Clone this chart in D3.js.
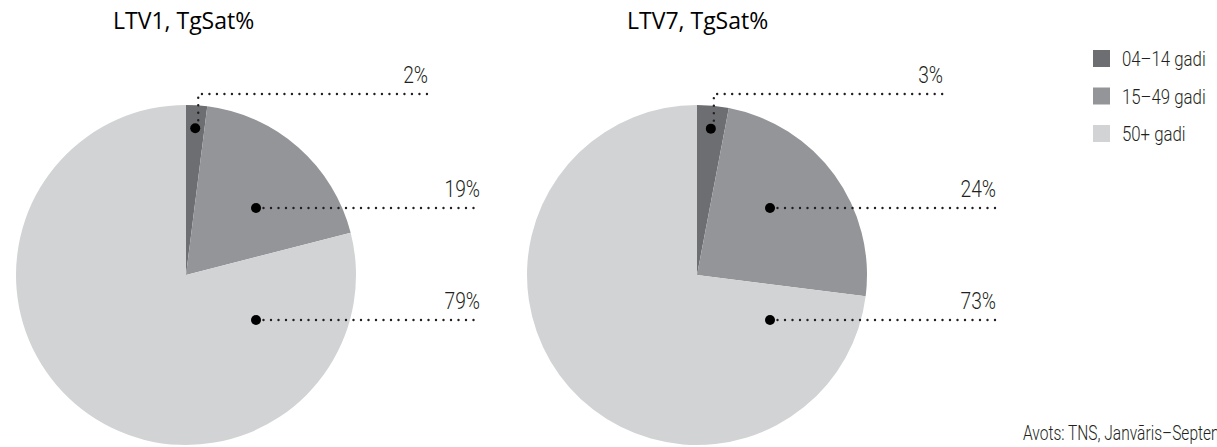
<!DOCTYPE html>
<html>
<head>
<meta charset="utf-8">
<script src="https://cdn.jsdelivr.net/npm/d3@7"></script>
<style>
  html, body { margin: 0; padding: 0; background: #fff; overflow: hidden; }
  svg { display: block; }
</style>
</head>
<body>
<svg id="chart" width="1217" height="447"></svg>
<script>
// ---- data ----
const categories = ["04–14 gadi", "15–49 gadi", "50+ gadi"];
const chartTitles = ["LTV1, TgSat%", "LTV7, TgSat%"];
const ltv1Values = [2, 19, 79];
const ltv7Values = [3, 24, 73];
const sourceText = "Avots: TNS, Janvāris–Septembris";

// ---- styling / layout ----
const colors = ["#6d6e71", "#939598", "#d1d3d4"];
const textColor = "#231f20";
const condFont = "Roboto, 'Noto Sans', sans-serif";
const condScale = 0.8;
const titleFont = "'Open Sans', 'Noto Sans', sans-serif";
const R = 170;
const pies = [
  { title: chartTitles[0], values: ltv1Values, cx: 186, cy: 275, titleX: 113,
    dotDx: 70, lineEnd: [428, 480, 480] },
  { title: chartTitles[1], values: ltv7Values, cx: 697, cy: 275, titleX: 627,
    dotDx: 73, lineEnd: [943, 996, 996] }
];

const svg = d3.select("#chart");
const color = d3.scaleOrdinal().domain(categories).range(colors);
const pie = d3.pie().sort(null).value(d => d).startAngle(0).endAngle(2 * Math.PI);
const arc = d3.arc().innerRadius(0).outerRadius(R);

// condensed text helper (horizontally scaled, still real text)
function condText(parent, x, y, str, size, anchor, sx) {
  return parent.append("text")
    .attr("transform", `translate(${x},${y}) scale(${sx || condScale},1)`)
    .attr("text-anchor", anchor || "start")
    .attr("font-family", condFont).attr("font-weight", 300)
    .attr("font-size", size)
    .attr("fill", textColor)
    .text(str);
}

pies.forEach(p => {
  const g = svg.append("g");
  const arcs = pie(p.values);

  g.append("text")
    .attr("x", p.titleX).attr("y", 29)
    .attr("font-family", titleFont).attr("font-size", 23)
    .attr("fill", "#000")
    .text(p.title);

  const pg = g.append("g").attr("transform", `translate(${p.cx},${p.cy})`);
  pg.selectAll("path").data(arcs).join("path")
    .attr("d", arc)
    .attr("fill", (d, i) => color(categories[i]));

  const dotStyle = sel => sel.attr("stroke", textColor).attr("stroke-width", 2.4)
    .attr("stroke-linecap", "round").attr("stroke-dasharray", "0 7.5").attr("fill", "none");

  arcs.forEach((a, i) => {
    let dx, dy, lineY;
    if (i === 0) {
      const mid = (a.startAngle + a.endAngle) / 2;
      dx = p.cx + 147 * Math.sin(mid);
      dy = p.cy - 147 * Math.cos(mid);
      lineY = 94;
      g.append("path")
        .attr("d", `M${dx + 3},${dy - 8} L${dx + 3},${lineY} L${p.lineEnd[i]},${lineY}`)
        .call(dotStyle);
    } else {
      dx = p.cx + p.dotDx;
      dy = i === 1 ? 208 : 320;
      lineY = dy;
      g.append("path")
        .attr("d", `M${dx + 7.5},${lineY} L${p.lineEnd[i]},${lineY}`)
        .call(dotStyle);
    }
    g.append("circle").attr("cx", dx).attr("cy", dy).attr("r", 5).attr("fill", "#000");
    condText(g, p.lineEnd[i], lineY - 11, p.values[i] + "%", 24, "end");
  });
});

// legend
const lg = svg.append("g").attr("transform", "translate(1093,50)");
categories.forEach((c, i) => {
  const it = lg.append("g").attr("transform", `translate(0,${i * 37.5})`);
  it.append("rect").attr("width", 17).attr("height", 17).attr("fill", color(c));
  condText(it, 29, 16, c, 21);
});

// source (runs past the right edge, as in the reference)
condText(svg, 1023, 440, sourceText, 21, "start", 0.74);
</script>
</body>
</html>
